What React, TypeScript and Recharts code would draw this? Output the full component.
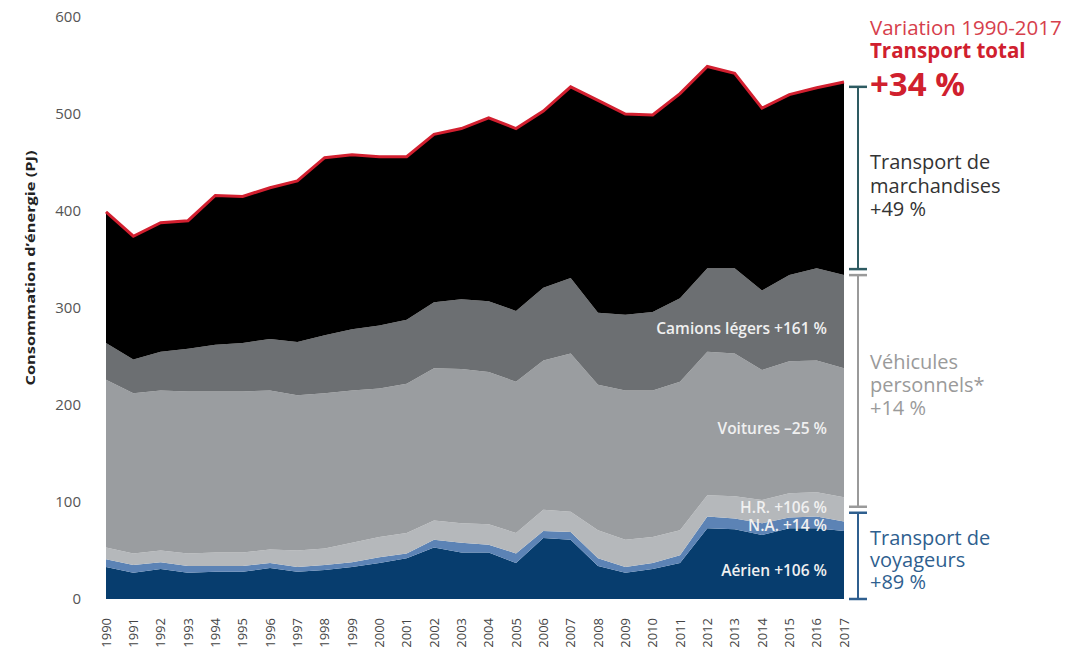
import React from 'react';
import { AreaChart, Area, XAxis, YAxis, ReferenceLine } from 'recharts';

const years = ['1990','1991','1992','1993','1994','1995','1996','1997','1998','1999','2000','2001','2002','2003','2004','2005','2006','2007','2008','2009','2010','2011','2012','2013','2014','2015','2016','2017'];
const aerien = [33,27,31,27,28,28,32,28,30,33,37,42,53,48,48,37,63,61,34,27,31,37,73,72,66,73,73,70];
const nonAssigne = [8,8,7,7,6,6,5,5,5,5,6,5,8,10,8,10,7,8,8,6,6,8,12,11,12,11,12,10];
const horsRoute = [12,12,12,13,14,14,14,17,17,20,21,21,20,20,21,21,22,21,29,28,27,26,22,23,24,25,25,25];
const voitures = [173,165,165,167,166,166,164,160,160,157,153,154,157,159,157,156,154,163,150,154,151,153,148,147,134,136,136,133];
const camions = [38,35,40,44,48,50,53,55,60,63,65,66,68,72,73,73,75,78,74,78,81,86,86,88,82,89,95,96];
const marchandises = [135,127,133,132,154,151,156,166,183,180,174,168,173,176,189,188,182,197,219,207,203,211,208,201,188,186,186,199];
const yTicks = [0,100,200,300,400,500,600];

// bracket stops (values on the y scale) for the right-hand annotation
const bracketStops = [0, 92, 337, 528];
const bracketColors = ['#2f5f8f', '#9a9a9a', '#2e5b62'];

const data = years.map((year, i) => ({
  year,
  aerien: aerien[i],
  na: nonAssigne[i],
  hr: horsRoute[i],
  voitures: voitures[i],
  camions: camions[i],
  marchandises: marchandises[i],
}));

const W = 1058;
const H = 644;
const SHIFT = 4;

const YearTick = (props: any) => {
  const { x, y, payload } = props;
  return (
    <text x={x} y={y} transform={`rotate(-90 ${x} ${y})`} textAnchor="end" dy="0.35em" fontSize={13} fill="#444" fontFamily='"Open Sans", sans-serif'>
      {payload.value}
    </text>
  );
};

const makeBracket = (color: string, gapLow: number, gapHigh: number) => (props: any) => {
  const { x1, y1, x2, y2 } = props;
  const bx = Math.max(x1, x2) + 14;
  const top = Math.min(y1, y2) + gapHigh;
  const bottom = Math.max(y1, y2) - gapLow;
  return (
    <g>
      <line x1={bx} x2={bx} y1={top} y2={bottom} stroke={color} strokeWidth={2} />
      <line x1={bx - 9} x2={bx + 9} y1={top} y2={top} stroke={color} strokeWidth={2.5} />
      <line x1={bx - 9} x2={bx + 9} y1={bottom} y2={bottom} stroke={color} strokeWidth={2.5} />
    </g>
  );
};

export default function App() {
  const font = '"Open Sans", sans-serif';
  return (
    <div style={{ position: 'relative', width: W, height: H, marginTop: -SHIFT, fontFamily: font }}>
      <AreaChart width={W} height={H} data={data} margin={{ top: 9 + SHIFT, right: 222, bottom: 0, left: 0 }}>
        <XAxis dataKey="year" height={49} tickSize={0} tickMargin={19} axisLine={false} tickLine={false} interval={0} tick={<YearTick />} />
        <YAxis width={98} domain={[0, 600]} ticks={yTicks} tickSize={0} tickMargin={25} axisLine={false} tickLine={false} tick={{ fill: '#555', fontSize: 15, fontFamily: font }} />
        <Area type="linear" dataKey="aerien" stackId="1" fill="#073d6e" fillOpacity={1} stroke="none" isAnimationActive={false} />
        <Area type="linear" dataKey="na" stackId="1" fill="#5c83b5" fillOpacity={1} stroke="none" isAnimationActive={false} />
        <Area type="linear" dataKey="hr" stackId="1" fill="#b5b8bb" fillOpacity={1} stroke="none" isAnimationActive={false} />
        <Area type="linear" dataKey="voitures" stackId="1" fill="#9a9da0" fillOpacity={1} stroke="none" isAnimationActive={false} />
        <Area type="linear" dataKey="camions" stackId="1" fill="#6c6f72" fillOpacity={1} stroke="none" isAnimationActive={false} />
        <Area type="linear" dataKey="marchandises" stackId="1" fill="#000000" fillOpacity={1} stroke="#d21f2f" strokeWidth={3} isAnimationActive={false} />
        {bracketColors.map((c, i) => (
          <ReferenceLine
            key={i}
            segment={[{ x: '2017', y: bracketStops[i] }, { x: '2017', y: bracketStops[i + 1] }]}
            ifOverflow="visible"
            shape={makeBracket(c, i === 0 ? 0 : 3, i === bracketColors.length - 1 ? 0 : 3)}
          />
        ))}
      </AreaChart>
      <svg width={W} height={H} style={{ position: 'absolute', left: 0, top: 0, pointerEvents: 'none' }} fontFamily={font}>
        <g transform={`translate(0 ${SHIFT})`}>
          <text x={23} y={260} transform="rotate(-90 23 260)" textAnchor="middle" dy="0.35em" fontSize={12.5} fontWeight={700} fill="#222" textLength={235} lengthAdjust="spacingAndGlyphs">Consommation d’énergie (PJ)</text>

          <g fill="#f0f0f0" fontSize={15.5} fontWeight={600} textAnchor="end">
            <text x={819} y={326}>Camions légers +161 %</text>
            <text x={819} y={426}>Voitures –25 %</text>
            <text x={819} y={505}>H.R. +106 %</text>
            <text x={819} y={523}>N.A. +14 %</text>
            <text x={819} y={568}>Aérien +106 %</text>
          </g>

          <text x={862} y={27} fontSize={20.5} fill="#d6404c">Variation 1990-2017</text>
          <text x={862} y={50} fontSize={20.5} fontWeight={700} fill="#d0202e">Transport total</text>
          <text x={862} y={88} fontSize={33} fontWeight={700} fill="#d0202e">+34 %</text>

          <g fontSize={20} fill="#333">
            <text x={862} y={161}>Transport de</text>
            <text x={862} y={185}>marchandises</text>
            <text x={862} y={208}>+49 %</text>
          </g>
          <g fontSize={20} fill="#9a9a9a">
            <text x={862} y={361}>Véhicules</text>
            <text x={862} y={384}>personnels*</text>
            <text x={862} y={407}>+14 %</text>
          </g>
          <g fontSize={20} fill="#2f5f8f">
            <text x={862} y={537}>Transport de</text>
            <text x={862} y={559}>voyageurs</text>
            <text x={862} y={581}>+89 %</text>
          </g>
        </g>
      </svg>
    </div>
  );
}
